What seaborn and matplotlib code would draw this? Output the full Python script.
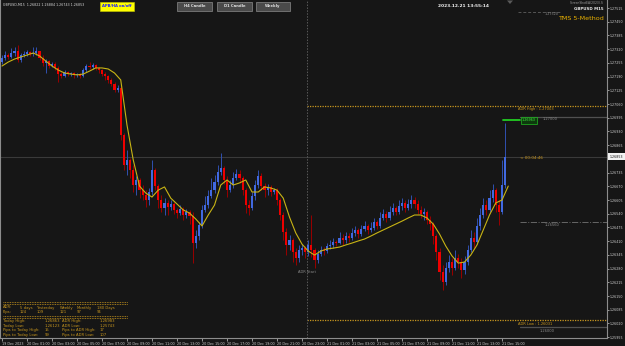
import matplotlib
matplotlib.use("Agg")
import matplotlib.pyplot as plt
from matplotlib.lines import Line2D
from matplotlib.patches import Rectangle, Polygon
import numpy as np
import pandas as pd
import seaborn as sns

# ---------------- data (GBPUSD M15) ----------------
first_open = 1.27259
close_prices = [
    1.27278, 1.27292, 1.27283, 1.27302, 1.27311, 1.27269, 1.27292, 1.27297, 1.27307, 1.27297,
    1.27302, 1.27311, 1.27278, 1.27254, 1.27264, 1.27240, 1.27250, 1.27231, 1.27202, 1.27193,
    1.27212, 1.27202, 1.27207, 1.27198, 1.27202, 1.27193, 1.27221, 1.27240, 1.27235, 1.27245,
    1.27231, 1.27221, 1.27202, 1.27193, 1.27174, 1.27155, 1.27126, 1.27136, 1.26913, 1.26771,
    1.26795, 1.26747, 1.26676, 1.26700, 1.26652, 1.26629, 1.26605, 1.26643, 1.26747, 1.26671,
    1.26605, 1.26567, 1.26591, 1.26572, 1.26586, 1.26558, 1.26543, 1.26562, 1.26534, 1.26548,
    1.26529, 1.26401, 1.26434, 1.26486, 1.26558, 1.26581, 1.26624, 1.26652, 1.26690, 1.26738,
    1.26757, 1.26700, 1.26652, 1.26676, 1.26709, 1.26728, 1.26709, 1.26652, 1.26581, 1.26567,
    1.26624, 1.26676, 1.26719, 1.26671, 1.26652, 1.26667, 1.26643, 1.26652, 1.26605, 1.26534,
    1.26453, 1.26392, 1.26415, 1.26359, 1.26330, 1.26368, 1.26377, 1.26359, 1.26392, 1.26368,
    1.26321, 1.26349, 1.26368, 1.26363, 1.26387, 1.26392, 1.26406, 1.26401, 1.26425, 1.26415,
    1.26434, 1.26425, 1.26449, 1.26463, 1.26444, 1.26468, 1.26482, 1.26463, 1.26472, 1.26501,
    1.26482, 1.26520, 1.26539, 1.26520, 1.26548, 1.26567, 1.26548, 1.26577, 1.26591, 1.26567,
    1.26586, 1.26605, 1.26586, 1.26558, 1.26539, 1.26548, 1.26510, 1.26491, 1.26434, 1.26359,
    1.26264, 1.26216, 1.26283, 1.26311, 1.26283, 1.26330, 1.26311, 1.26273, 1.26311, 1.26368,
    1.26425, 1.26406, 1.26482, 1.26534, 1.26581, 1.26558, 1.26614, 1.26652, 1.26581, 1.26548,
    1.26676, 1.26809]
high_prices = [
    1.27292, 1.27311, 1.27302, 1.27325, 1.27330, 1.27340, 1.27302, 1.27311, 1.27316, 1.27311,
    1.27330, 1.27330, 1.27311, 1.27292, 1.27273, 1.27269, 1.27259, 1.27259, 1.27240, 1.27212,
    1.27221, 1.27216, 1.27212, 1.27212, 1.27207, 1.27207, 1.27231, 1.27250, 1.27259, 1.27254,
    1.27250, 1.27235, 1.27226, 1.27212, 1.27198, 1.27183, 1.27164, 1.27150, 1.27145, 1.26923,
    1.26842, 1.26804, 1.26771, 1.26719, 1.26709, 1.26676, 1.26652, 1.26662, 1.26795, 1.26757,
    1.26681, 1.26629, 1.26614, 1.26605, 1.26605, 1.26596, 1.26567, 1.26581, 1.26572, 1.26562,
    1.26558, 1.26548, 1.26463, 1.26501, 1.26581, 1.26624, 1.26652, 1.26709, 1.26723, 1.26771,
    1.26828, 1.26766, 1.26719, 1.26700, 1.26738, 1.26752, 1.26747, 1.26719, 1.26662, 1.26605,
    1.26643, 1.26700, 1.26747, 1.26733, 1.26686, 1.26681, 1.26676, 1.26662, 1.26662, 1.26614,
    1.26548, 1.26472, 1.26439, 1.26425, 1.26377, 1.26392, 1.26396, 1.26387, 1.26415, 1.26534,
    1.26377, 1.26368, 1.26387, 1.26382, 1.26401, 1.26415, 1.26425, 1.26415, 1.26453, 1.26444,
    1.26453, 1.26449, 1.26472, 1.26482, 1.26472, 1.26486, 1.26505, 1.26491, 1.26501, 1.26520,
    1.26510, 1.26548, 1.26562, 1.26553, 1.26577, 1.26591, 1.26577, 1.26605, 1.26614, 1.26605,
    1.26610, 1.26629, 1.26619, 1.26605, 1.26577, 1.26567, 1.26558, 1.26529, 1.26501, 1.26444,
    1.26377, 1.26297, 1.26311, 1.26344, 1.26330, 1.26368, 1.26349, 1.26330, 1.26340, 1.26392,
    1.26463, 1.26453, 1.26520, 1.26567, 1.26614, 1.26605, 1.26652, 1.26681, 1.26662, 1.26605,
    1.26795, 1.26970]
low_prices = [
    1.27250, 1.27269, 1.27273, 1.27278, 1.27288, 1.27259, 1.27259, 1.27283, 1.27288, 1.27288,
    1.27288, 1.27292, 1.27269, 1.27240, 1.27207, 1.27231, 1.27235, 1.27221, 1.27164, 1.27183,
    1.27188, 1.27193, 1.27193, 1.27183, 1.27188, 1.27183, 1.27188, 1.27212, 1.27226, 1.27226,
    1.27221, 1.27207, 1.27193, 1.27174, 1.27160, 1.27145, 1.27117, 1.27117, 1.26889, 1.26747,
    1.26723, 1.26709, 1.26643, 1.26629, 1.26614, 1.26605, 1.26572, 1.26581, 1.26629, 1.26652,
    1.26567, 1.26548, 1.26534, 1.26534, 1.26558, 1.26539, 1.26520, 1.26534, 1.26510, 1.26520,
    1.26491, 1.26306, 1.26377, 1.26415, 1.26472, 1.26548, 1.26567, 1.26614, 1.26638, 1.26676,
    1.26723, 1.26681, 1.26619, 1.26643, 1.26662, 1.26700, 1.26686, 1.26629, 1.26543, 1.26534,
    1.26558, 1.26605, 1.26662, 1.26652, 1.26619, 1.26629, 1.26624, 1.26633, 1.26581, 1.26510,
    1.26415, 1.26344, 1.26368, 1.26311, 1.26297, 1.26311, 1.26344, 1.26330, 1.26340, 1.26335,
    1.26283, 1.26306, 1.26340, 1.26344, 1.26354, 1.26373, 1.26377, 1.26387, 1.26396, 1.26392,
    1.26401, 1.26406, 1.26415, 1.26434, 1.26425, 1.26434, 1.26458, 1.26444, 1.26453, 1.26463,
    1.26468, 1.26472, 1.26510, 1.26501, 1.26510, 1.26534, 1.26534, 1.26539, 1.26558, 1.26548,
    1.26558, 1.26567, 1.26567, 1.26539, 1.26520, 1.26510, 1.26491, 1.26463, 1.26396, 1.26321,
    1.26226, 1.26178, 1.26202, 1.26264, 1.26249, 1.26273, 1.26283, 1.26235, 1.26254, 1.26297,
    1.26359, 1.26377, 1.26396, 1.26463, 1.26520, 1.26534, 1.26548, 1.26595, 1.26548, 1.26486,
    1.26539, 1.26662]
# moving average, read every second bar
ma_values = [
    1.27240, 1.27259, 1.27273, 1.27283, 1.27292, 1.27302, 1.27288, 1.27264, 1.27240, 1.27221,
    1.27207, 1.27202, 1.27198, 1.27202, 1.27216, 1.27231, 1.27231, 1.27226, 1.27207, 1.27174,
    1.26960, 1.26795, 1.26671, 1.26638, 1.26619, 1.26652, 1.26667, 1.26614, 1.26586, 1.26558,
    1.26543, 1.26515, 1.26482, 1.26534, 1.26581, 1.26676, 1.26700, 1.26676, 1.26686, 1.26700,
    1.26643, 1.26643, 1.26667, 1.26662, 1.26652, 1.26614, 1.26524, 1.26449, 1.26396, 1.26363,
    1.26344, 1.26363, 1.26373, 1.26377, 1.26382, 1.26392, 1.26401, 1.26411, 1.26420, 1.26434,
    1.26449, 1.26463, 1.26477, 1.26491, 1.26505, 1.26520, 1.26534, 1.26534, 1.26520, 1.26491,
    1.26444, 1.26387, 1.26340, 1.26306, 1.26311, 1.26344, 1.26392, 1.26463, 1.26534, 1.26591,
    1.26605, 1.26671]
time_labels = ["19 Dec 2023", "20 Dec 01:00", "20 Dec 03:00", "20 Dec 05:00", "20 Dec 07:00",
               "20 Dec 09:00", "20 Dec 11:00", "20 Dec 13:00", "20 Dec 15:00", "20 Dec 17:00",
               "20 Dec 19:00", "20 Dec 21:00", "20 Dec 23:00", "21 Dec 01:00", "21 Dec 03:00",
               "21 Dec 05:00", "21 Dec 07:00", "21 Dec 09:00", "21 Dec 11:00", "21 Dec 13:00",
               "21 Dec 15:00"]
price_ticks = [1.27515, 1.27450, 1.27385, 1.27320, 1.27255, 1.27190, 1.27125, 1.27060,
               1.26995, 1.26930, 1.26865, 1.26735, 1.26670, 1.26605, 1.26540, 1.26475,
               1.26410, 1.26345, 1.26280, 1.26215, 1.26150, 1.26085, 1.26020, 1.25955]
bid_price = 1.26809
adr_high = 1.27051
adr_low = 1.26036
level_top = 1.27496
level_green = 1.26984
level_grey1 = 1.26998
level_dashdot = 1.26501
level_grey2 = 1.26003

table_header = ["ADR:", "5 days", "Yesterday", "Weekly", "Monthly", "180 Days"]
table_pips = ["Pips:", "124", "109", "121", "97", "94"]
table_rows = [("Today High:", "1.26863", "ADR High:", "1.26983"),
              ("Today Low:", "1.26123", "ADR Low:", "1.25743"),
              ("Pips to Today High:", "15", "Pips to ADR High:", "17"),
              ("Pips to Today Low:", "99", "Pips to ADR Low:", "107")]

# ---------------- style ----------------
W, H = 625, 346
BG = "#161616"
BULL, BEAR = "#4169e1", "#ee0000"
BULL_WICK, BEAR_WICK = "#3050b0", "#9a0000"
MA_COL = "#c8b414"
ORANGE = "#c8961e"
GREY_TXT = "#8a8a8a"

sns.set_theme(style="dark", rc={"axes.facecolor": BG, "figure.facecolor": BG})
plt.rcParams["font.family"] = ["DejaVu Sans"]

fig = plt.figure(figsize=(W / 100, H / 100), dpi=100)
fig.patch.set_facecolor(BG)
ax = fig.add_axes([0, 1 - 338 / H, 607 / W, 338 / H])
ax.set_facecolor(BG)

closes = np.array(close_prices)
opens = np.array([first_open] + close_prices[:-1])
highs = np.array(high_prices)
lows = np.array(low_prices)
idx = np.arange(len(closes))
up = closes >= opens
body_col = np.where(up, BULL, BEAR)
wick_col = np.where(up, BULL_WICK, BEAR_WICK)
heights = closes - opens
heights = np.where(np.abs(heights) < 0.00003, np.where(up, 0.00003, -0.00003), heights)

ax.vlines(idx, lows, highs, colors=wick_col, lw=0.7, zorder=2)
ax.bar(idx, heights, bottom=opens, width=0.7, color=body_col, lw=0, zorder=3)

ma_df = pd.DataFrame({"bar": np.arange(0, 2 * len(ma_values), 2), "ma": ma_values})
sns.lineplot(data=ma_df, x="bar", y="ma", ax=ax, color=MA_COL, lw=0.8, zorder=4, legend=False)

ax.set_xlim(-0.64, 193.6)
ax.set_ylim(1.25951, 1.27553)
ax.set_xlabel("")
ax.set_ylabel("")
ax.grid(False)

# axes / ticks
ax.yaxis.tick_right()
ax.set_yticks(price_ticks)
ax.set_yticklabels([f"{p:.5f}" for p in price_ticks])
ax.set_xticks(np.arange(0, 8 * len(time_labels), 8))
ax.set_xticklabels(time_labels, ha="left")
ax.tick_params(axis="y", right=True, left=False, length=1.5, width=0.5, colors="#cfcfcf",
               labelsize=2.35, pad=0.6)
ax.tick_params(axis="x", bottom=True, length=2, width=0.5, colors="#cfcfcf",
               labelsize=2.4, pad=1)
for side in ["right", "bottom", "left"]:
    ax.spines[side].set_color("#8c8c8c")
    ax.spines[side].set_linewidth(0.8)
ax.spines["top"].set_visible(False)

def frac(xp):
    return xp / 607

# horizontal levels
ax.axhline(bid_price, color="#3a3a3a", lw=0.8, zorder=1)
ax.axhline(adr_high, xmin=frac(307), xmax=1, color=ORANGE, lw=0.9, ls=(0, (1, 1)), zorder=1)
ax.axhline(adr_low, xmin=frac(307), xmax=1, color=ORANGE, lw=0.9, ls=(0, (1, 1)), zorder=1)
ax.axhline(level_grey1, xmin=frac(520), xmax=1, color="#505050", lw=0.9, zorder=1)
ax.axhline(level_grey2, xmin=frac(520), xmax=1, color="#505050", lw=0.9, zorder=1)
ax.axhline(level_green, xmin=frac(503), xmax=frac(520), color="#22cc22", lw=1.3, zorder=5)
ax.axhline(level_dashdot, xmin=frac(520), xmax=1, color="#666666", lw=0.7, ls="-.", zorder=1)
ax.axhline(level_top, xmin=frac(518), xmax=frac(560), color="#555555", lw=0.7, ls=(0, (3, 2)), zorder=1)
ax.axvline((307 - 2) / 3.125, color="#5a5a5a", lw=0.7, ls=(0, (1.5, 1.5)), zorder=1)

def T(x, y, s, **kw):
    kw.setdefault("ha", "left")
    kw.setdefault("va", "center")
    return fig.text(x / W, 1 - y / H, s, **kw)

def rect(x0, y0, x1, y1, fc, ec="none", lw=0.5):
    fig.add_artist(Rectangle((x0 / W, 1 - y1 / H), (x1 - x0) / W, (y1 - y0) / H,
                             transform=fig.transFigure, fc=fc, ec=ec, lw=lw))

def hl(x0, x1, y, **kw):
    fig.add_artist(Line2D([x0 / W, x1 / W], [1 - y / H, 1 - y / H], transform=fig.transFigure, **kw))

# level labels
T(518, 109, "ADR High : 1.27003", color=ORANGE, fontsize=2.6)
T(543, 119.5, "1.27000", color=GREY_TXT, fontsize=2.6)
rect(521, 116.5, 537, 123.5, fc="#0d3a0d", ec="#22bb22", lw=0.5)
T(529, 120, "1.26963", color="#44ee44", fontsize=2.4, ha="center")
T(520, 158, "< 00:04:46", color=ORANGE, fontsize=3.0)
T(545, 225, "1.26560", color=GREY_TXT, fontsize=2.6)
T(518, 324, "ADR Low : 1.26031", color=ORANGE, fontsize=2.6)
T(540, 330.5, "1.26000", color=GREY_TXT, fontsize=2.6)
T(545, 14, "1.27520", color=GREY_TXT, fontsize=2.4)
T(298, 272, "ADR Start", color=GREY_TXT, fontsize=2.6)

# bid price box on axis
rect(608, 153.5, 625, 160.5, fc="#f2f2f2")
T(616.3, 157, "1.26853", color="#111111", fontsize=2.3, ha="center")

# header
T(3, 5, "GBPUSD,M15  1.26822 1.26884 1.26743 1.26853", color="#d8d8d8", fontsize=2.3)
rect(100, 2, 134, 10.5, fc="#ffff00", ec="#c8c800", lw=0.4)
T(117, 6.3, "APB/HA on/off", color="#1a1aff", fontsize=2.7, ha="center", weight="bold")
for (x0, x1, s) in [(177, 212, "H4 Candle"), (217, 252, "D1 Candle"), (256, 290, "Weekly")]:
    rect(x0, 2, x1, 10.5, fc="#4a4a4a", ec="#8a8a8a", lw=0.5)
    T((x0 + x1) / 2, 6.3, s, color="#e0e0e0", fontsize=2.7, ha="center", weight="bold")
T(463, 6, "2023.12.21 13:55:14", color="#f0f0f0", fontsize=3.2, ha="center", weight="bold")
T(604, 3.5, "ScreenShotEA(2023).S", color="#9a9a9a", fontsize=2.2, ha="right")
T(604, 8.5, "GBPUSD M15", color="#e8e8e8", fontsize=2.9, ha="right", weight="bold")
T(604, 18, "TMS 5-Method", color="#e8b000", fontsize=4.6, ha="right")
fig.add_artist(Polygon([[507 / W, 1 - 0.5 / H], [513 / W, 1 - 0.5 / H], [510 / W, 1 - 4 / H]],
                       closed=True, transform=fig.transFigure, fc="#5a5a5a", ec="none"))

# ADR table
for yy in (302.3, 303.8, 316.3, 317.8):
    hl(3, 128, yy, color=ORANGE, lw=0.6, ls=(0, (1, 1)))
cols = [3, 20, 37, 60, 77, 97]
for x, s in zip(cols, table_header):
    T(x, 307.5, s, color=ORANGE, fontsize=2.7)
for x, s in zip(cols, table_pips):
    T(x, 312, s, color=ORANGE, fontsize=2.7)
for k, (a, b, c, d) in enumerate(table_rows):
    yy = 321 + 4.6 * k
    T(3, yy, a, color=ORANGE, fontsize=2.7)
    T(45, yy, b, color=ORANGE, fontsize=2.7)
    T(62, yy, c, color=ORANGE, fontsize=2.7)
    T(100, yy, d, color=ORANGE, fontsize=2.7)

fig.savefig("out.png", dpi=100, facecolor=BG)
